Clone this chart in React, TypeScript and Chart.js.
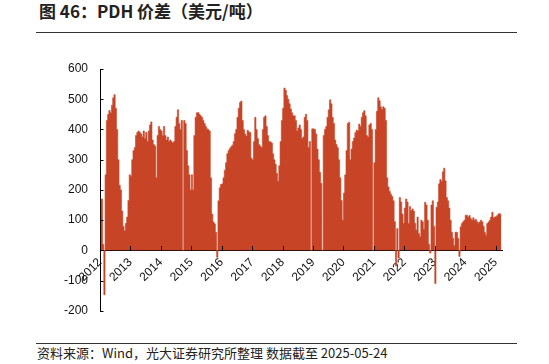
import React, { useEffect, useRef } from 'react';
import { Chart, registerables } from 'chart.js';

Chart.register(...registerables);

const TITLE = '图 46：PDH 价差（美元/吨）';
const SOURCE = '资料来源：Wind，光大证券研究所整理 数据截至 2025-05-24';

// tick labels on the x axis (one per axis year)
const yearLabels = ['2012', '2013', '2014', '2015', '2016', '2017', '2018', '2019', '2020', '2021', '2022', '2023', '2024', '2025'];

// PDH spread, USD/t — semi-monthly readings, 24 per axis year
const s2012 = [170, 170, 20, -147, 250, 430, 450, 463, 455, 480, 505, 515, 470, 400, 300, 215, 200, 130, 80, 65, 90, 110, 165, 250];
const s2013 = [245, 300, 330, 340, 380, 390, 395, 390, 385, 375, 395, 370, 390, 360, 395, 415, 425, 365, 350, 345, 240, 380, 410, 400];
const s2014 = [395, 380, 410, 380, 365, 375, 360, 365, 360, 355, 360, 410, 440, 465, 420, 400, 430, 0, 430, 420, 330, 280, 250, 200];
const s2015 = [250, 200, 380, 440, 455, 456, 450, 445, 440, 430, 420, 410, 402, 400, 395, 240, 120, 94, 88, 60, -23, 164, 207, 218];
const s2016 = [220, 240, 265, 290, 320, 330, 337, 343, 348, 360, 386, 400, 440, 470, 489, 494, 430, 400, 385, 378, 397, 392, 390, 305];
const s2017 = [300, 360, 440, 400, 370, 350, 345, 340, 400, 440, 445, 410, 380, 360, 359, 355, 320, 300, 285, 255, 229, 280, 360, 430];
const s2018 = [470, 537, 530, 512, 500, 485, 468, 455, 445, 445, 430, 395, 405, 415, 400, 370, 375, 440, 450, 430, 340, 360, 0, 402];
const s2019 = [402, 400, 385, 335, 300, 258, 222, 0, 380, 400, 410, 440, 465, 498, 485, 440, 420, 365, 350, 340, 300, 240, 165, 100];
const s2020 = [190, 250, 330, 420, 424, 300, 335, 360, 372, 390, 398, 395, 418, 410, 440, 455, 462, 445, 380, 375, 415, 420, 400, 0];
const s2021 = [290, 400, 460, 505, 495, 475, 466, 475, 470, 430, 240, 210, 195, 186, 178, 164, 95, -52, 72, -25, 175, 160, 120, 90];
const s2022 = [140, 170, 160, 89, 145, 132, 137, 130, 90, 67, 110, 56, 45, 100, 95, 70, 159, 150, 100, 20, -9, 150, 164, 80];
const s2023 = [-110, 143, 160, 220, 234, 229, 260, 272, 230, 175, 164, 140, 100, 60, 40, 15, 60, 60, 40, -20, 78, 89, 95, 100];
const s2024 = [116, 116, 110, 115, 105, 100, 108, 100, 102, 95, 90, 94, 100, 95, 80, 60, 50, 89, 94, 100, 110, 126, 108, 110];
const s2025 = [112, 116, 121, 121, 116];

const seriesByYear = [s2012, s2013, s2014, s2015, s2016, s2017, s2018, s2019, s2020, s2021, s2022, s2023, s2024, s2025];
const SAMPLES_PER_YEAR = 24;

const Y_MIN = -200;
const Y_MAX = 600;
const Y_STEP = 100;

const BAR_COLOR = 'rgb(199,68,39)';
const FONT = "'Liberation Sans', Arial, Helvetica, sans-serif";
const CJK = "'Noto Sans CJK SC', 'Noto Sans', sans-serif";

const innerTicks = {
  id: 'innerTicks',
  afterDraw(chart: any) {
    const { ctx, scales } = chart;
    const x = scales.x;
    const y = scales.y;
    ctx.save();
    ctx.strokeStyle = '#000';
    ctx.lineWidth = 1;
    ctx.beginPath();
    const yr = Math.round(y.right) + 0.5;
    y.ticks.forEach((t: any) => {
      const py = Math.round(y.getPixelForValue(t.value)) + 0.5;
      ctx.moveTo(yr - 0.5, py);
      ctx.lineTo(yr + 3, py);
    });
    const y0 = Math.round(y.getPixelForValue(0));
    x.ticks.forEach((t: any) => {
      const px = Math.round(x.getPixelForValue(t.value)) + 0.5;
      ctx.moveTo(px, y0 + 1);
      ctx.lineTo(px, y0 - 4);
    });
    ctx.stroke();
    ctx.restore();
  },
};

export default function App() {
  const ref = useRef<HTMLCanvasElement>(null);

  useEffect(() => {
    if (!ref.current) return;
    const points: { x: number; y: number }[] = [];
    seriesByYear.forEach((arr, yi) => {
      arr.forEach((v, k) => {
        points.push({ x: yi + (k + 0.5) / SAMPLES_PER_YEAR, y: v });
      });
    });
    const lastYear = seriesByYear.length - 1;
    const xMax = lastYear + s2025.length / SAMPLES_PER_YEAR + 0.002;

    const chart = new Chart(ref.current, {
      type: 'line',
      data: {
        datasets: [
          {
            data: points as any,
            backgroundColor: BAR_COLOR,
            borderColor: BAR_COLOR,
            borderWidth: 0.6,
            pointRadius: 0,
            fill: 'origin',
            stepped: 'middle',
            tension: 0,
          } as any,
        ],
      },
      options: {
        responsive: false,
        animation: false,
        events: [],
        layout: { padding: { top: 29, bottom: 14, right: 47, left: 0 } },
        plugins: { legend: { display: false }, tooltip: { enabled: false } },
        scales: {
          x: {
            type: 'linear',
            position: { y: 0 } as any,
            min: 0,
            max: xMax,
            offset: false,
            z: 1,
            grid: { display: false, drawTicks: false, offset: false },
            border: { display: true, color: '#000', width: 1 },
            ticks: {
              stepSize: 1,
              includeBounds: false,
              autoSkip: false,
              minRotation: 45,
              maxRotation: 45,
              padding: 5,
              color: '#111',
              font: { family: FONT, size: 12 },
              callback: (v: any) => yearLabels[Number(v)] ?? '',
            },
          },
          y: {
            min: Y_MIN,
            max: Y_MAX,
            z: 1,
            grid: { display: false, drawTicks: false },
            border: { display: true, color: '#000', width: 1 },
            ticks: {
              stepSize: Y_STEP,
              padding: 12,
              color: '#111',
              font: { family: FONT, size: 12 },
            },
            afterFit: (s: any) => {
              s.width = 100;
            },
          },
        },
      },
      plugins: [innerTicks],
    });
    return () => chart.destroy();
  }, []);

  return (
    <div style={{ position: 'absolute', left: 0, top: 0, width: 549, height: 364, background: '#fff', overflow: 'hidden' }}>
      <div
        style={{
          position: 'absolute',
          left: 39,
          top: 0,
          fontFamily: CJK,
          fontWeight: 700,
          fontSize: 17,
          lineHeight: '22px',
          color: '#222',
          whiteSpace: 'nowrap',
        }}
      >
        {TITLE}
      </div>
      <div style={{ position: 'absolute', left: 36, top: 32, width: 481, height: 1, background: '#333' }} />
      <canvas ref={ref} width={549} height={290} style={{ position: 'absolute', left: 0, top: 40, width: 549, height: 290 }} />
      <div style={{ position: 'absolute', left: 36, top: 343, width: 481, height: 1, background: '#333' }} />
      <div
        style={{
          position: 'absolute',
          left: 37,
          top: 344,
          fontFamily: CJK,
          fontSize: 13,
          lineHeight: '17px',
          color: '#222',
          whiteSpace: 'nowrap',
        }}
      >
        {SOURCE}
      </div>
    </div>
  );
}
